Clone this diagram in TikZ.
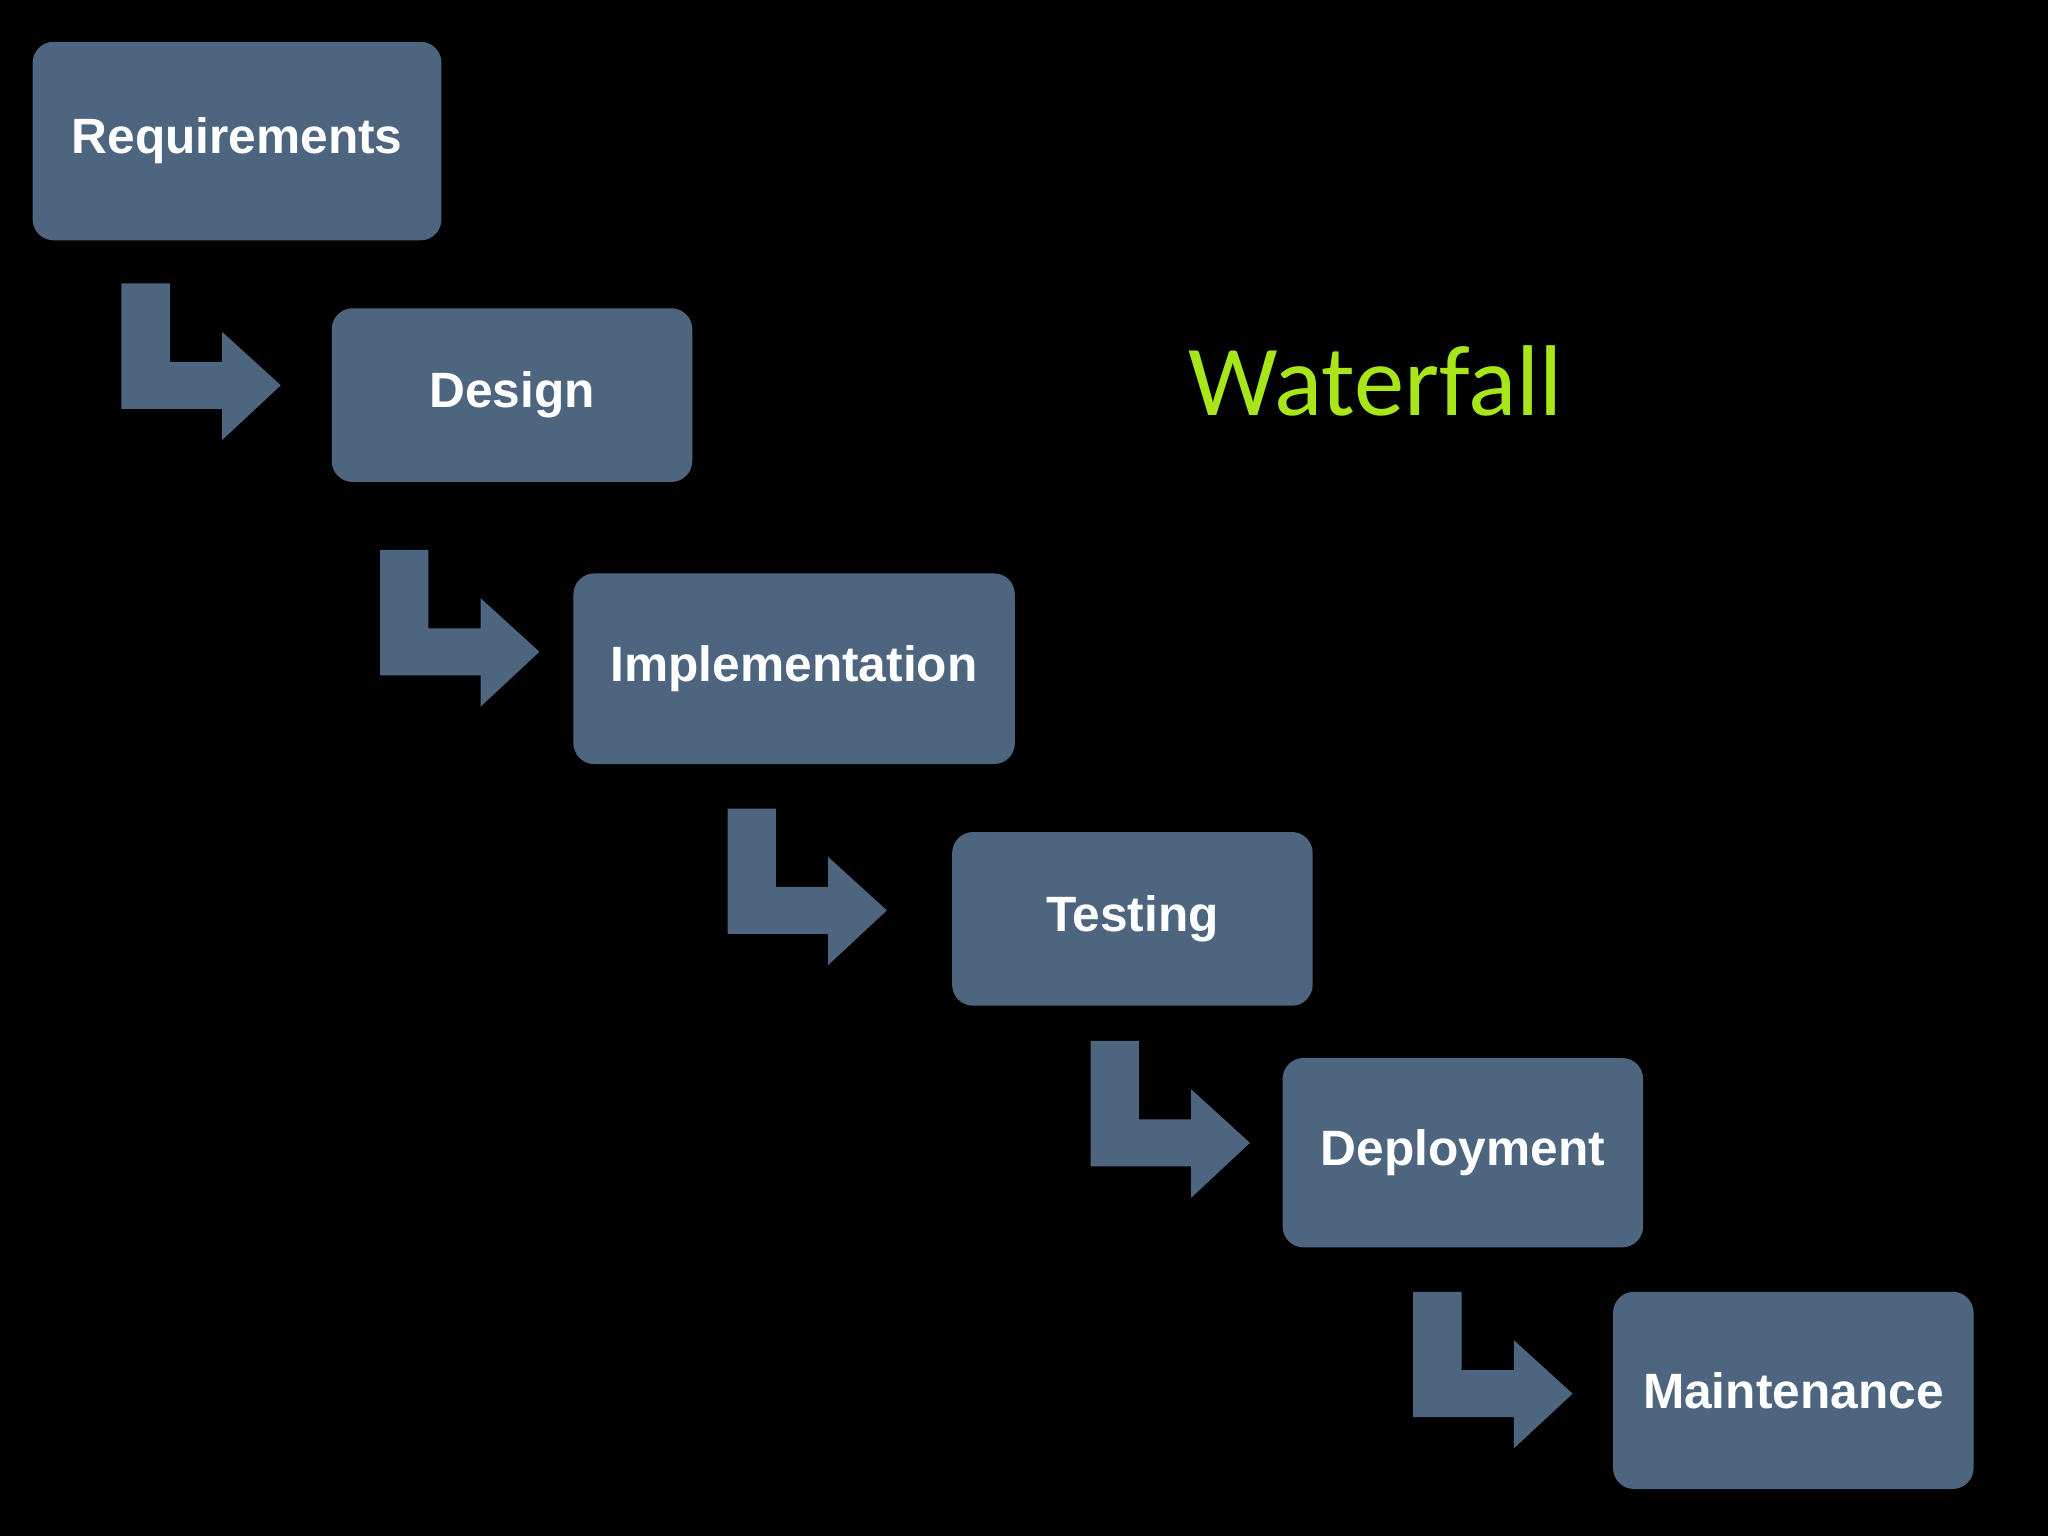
\documentclass[tikz,border=0pt]{standalone}
\usepackage{fontspec}
\setmainfont{Liberation Sans}
\newfontfamily\wfont{Carlito}
\definecolor{boxc}{HTML}{4E6580}
\definecolor{greenc}{HTML}{A8E61A}
\begin{document}
\begin{tikzpicture}[x=1pt,y=-1pt,
  stage/.style={fill=boxc,rounded corners=16pt,inner sep=0pt,text=white,font=\fontsize{38}{44}\selectfont\bfseries},
  bent/.style={fill=boxc}]
\fill[black] (0,0) rectangle (1568,1176);
\useasboundingbox (0,0) rectangle (1568,1176);
\newcommand\stagebox[6]{\node[stage,minimum width=#4-#2 pt,minimum height=#5-#3 pt] (#1) at ({(#2+#4)/2},{(#3+#5)/2}) {#6};}
\stagebox{req}{25}{32}{338}{184}{Requirements}
\stagebox{des}{254}{236}{530}{369}{Design}
\stagebox{imp}{439}{439}{777}{585}{Implementation}
\stagebox{tst}{729}{637}{1005}{770}{Testing}
\stagebox{dep}{982}{810}{1258}{955}{Deployment}
\stagebox{mnt}{1235}{989}{1511}{1140}{Maintenance}
\foreach \x/\y in {93/217,291/421,557/619,835/797,1082/989}{
  \fill[bent] (\x,\y) -- (\x+37,\y) -- (\x+37,\y+60) -- (\x+77,\y+60) -- (\x+77,\y+37)
    -- (\x+122,\y+78) -- (\x+77,\y+120) -- (\x+77,\y+96) -- (\x,\y+96) -- cycle;
}
\node[text=greenc,font=\wfont\fontsize{77}{80}\selectfont] (title) at (1053,292) {Waterfall};
\end{tikzpicture}
\end{document}
